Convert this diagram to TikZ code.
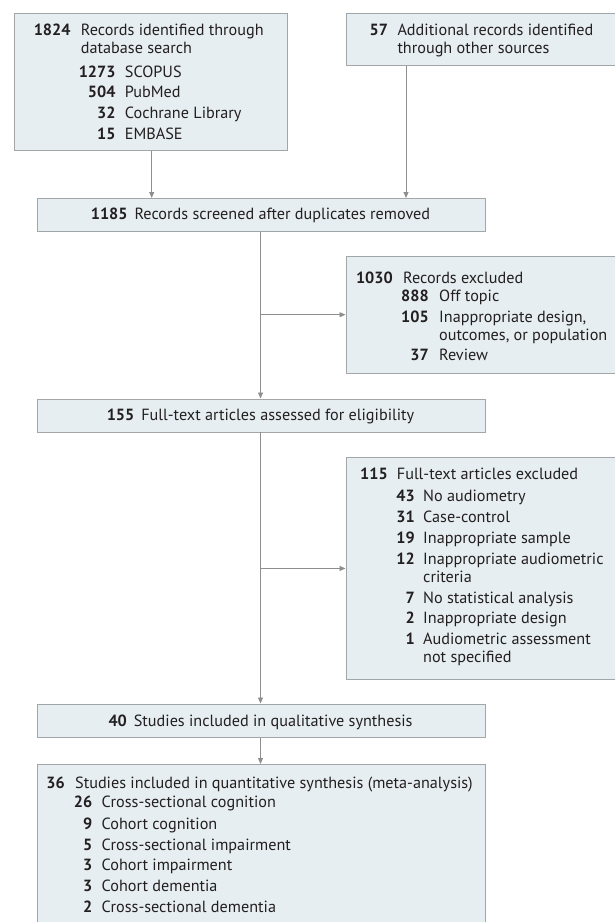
\documentclass[tikz,border=0pt]{standalone}
\usepackage{fontspec}
\setmainfont{PT Sans}
\usetikzlibrary{arrows.meta}
\definecolor{boxfill}{HTML}{E6EEF2}
\definecolor{boxline}{HTML}{A3A6A8}
\definecolor{arrline}{HTML}{8E8E8E}
\definecolor{txt}{HTML}{231F20}
\tikzset{
  box/.style={draw=boxline, fill=boxfill, line width=0.9pt, rectangle, inner sep=0pt, anchor=north west},
  arr/.style={draw=arrline, line width=0.9pt, -{Triangle[length=6pt,width=5pt]}},
  numst/.style={inner sep=0pt, anchor=base east, text=txt, font=\fontsize{16.2}{18}\selectfont\bfseries},
  txtst/.style={inner sep=0pt, anchor=base west, text=txt, font=\fontsize{16.2}{18}\selectfont},
  ctrst/.style={inner sep=0pt, anchor=base, text=txt, font=\fontsize{16.2}{18}\selectfont},
}
\newcommand{\entry}[6]{%
  \node[numst] (#1n) at (#2,#4) {#5};
  \node[txtst] (#1t) at (#3,#4) {#6};}
\newcommand{\contline}[4]{%
  \node[txtst] (#1) at (#2,#3) {#4};}
\begin{document}
\begin{tikzpicture}[x=1pt,y=-1pt]
\useasboundingbox (0,0) rectangle (615,922);
% boxes
\node[box, minimum width=273.3pt, minimum height=136.7pt] (b1) at (14,13.3) {};
\node[box, minimum width=268.8pt, minimum height=51.7pt] (b2) at (345.7,13.3) {};
\node[box, minimum width=448pt, minimum height=33pt] (b3) at (37,198) {};
\node[box, minimum width=269pt, minimum height=116.5pt] (ex1) at (345.5,256) {};
\node[box, minimum width=448pt, minimum height=33pt] (b4) at (37,398.5) {};
\node[box, minimum width=269pt, minimum height=222pt] (ex2) at (345.5,457) {};
\node[box, minimum width=448pt, minimum height=33.5pt] (b5) at (37,703.5) {};
\node[box, minimum width=448pt, minimum height=162pt] (b6) at (37,764) {};
% box 1
\entry{l1a}{70.7}{80.7}{35.3}{1824}{Records identified through}
\contline{l1b}{80.7}{53.5}{database search}
\entry{l1c}{115.7}{124.7}{77}{1273}{SCOPUS}
\entry{l1d}{115.7}{124.7}{97.5}{504}{PubMed}
\entry{l1e}{115.7}{124.7}{118.3}{32}{Cochrane Library}
\entry{l1f}{115.7}{124.7}{139}{15}{EMBASE}
% box 2
\entry{l2a}{388.3}{397.3}{35.3}{57}{Additional records identified}
\contline{l2b}{397.3}{53.5}{through other sources}
% box 3
\node[ctrst] (l3) at (260.5,219.3) {\textbf{1185}\hspace{7pt}Records screened after duplicates removed};
% excluded 1
\entry{e1a}{393}{403}{283}{1030}{Records excluded}
\entry{e1b}{429}{439}{301.7}{888}{Off topic}
\entry{e1c}{429}{439}{322.3}{105}{Inappropriate design,}
\contline{e1d}{439}{340.7}{outcomes, or population}
\entry{e1e}{429}{439}{360.7}{37}{Review}
% box 4
\node[ctrst] (l4) at (260.5,420.5) {\textbf{155}\hspace{7pt}Full-text articles assessed for eligibility};
% excluded 2
\entry{e2a}{388}{396.7}{479.5}{115}{Full-text articles excluded}
\entry{e2b}{415}{423}{501.5}{43}{No audiometry}
\entry{e2c}{415}{423}{522}{31}{Case-control}
\entry{e2d}{415}{423}{543}{19}{Inappropriate sample}
\entry{e2e}{415}{423}{564}{12}{Inappropriate audiometric}
\contline{e2f}{423}{582}{criteria}
\entry{e2g}{415}{423}{603}{7}{No statistical analysis}
\entry{e2h}{415}{423}{623}{2}{Inappropriate design}
\entry{e2i}{415}{423}{644}{1}{Audiometric assessment}
\contline{e2j}{423}{662}{not specified}
% box 5
\node[ctrst] (l5) at (260.5,726.7) {\textbf{40}\hspace{7pt}Studies included in qualitative synthesis};
% box 6
\entry{l6a}{65}{75}{788}{36}{Studies included in quantitative synthesis (meta-analysis)}
\entry{l6b}{92.5}{101.5}{807}{26}{Cross-sectional cognition}
\entry{l6c}{92.5}{101.5}{829}{9}{Cohort cognition}
\entry{l6d}{92.5}{101.5}{850.7}{5}{Cross-sectional impairment}
\entry{l6e}{92.5}{101.5}{870.7}{3}{Cohort impairment}
\entry{l6f}{92.5}{101.5}{891.7}{3}{Cohort dementia}
\entry{l6g}{92.5}{101.5}{912.7}{2}{Cross-sectional dementia}
% connectors
\coordinate (x1) at (151.7,0);
\coordinate (x2) at (406,0);
\coordinate (xm) at (260.5,0);
\draw[arr] (b1.south -| x1) -- (b3.north -| x1);
\draw[arr] (b2.south -| x2) -- (b3.north -| x2);
\draw[arr] (b3.south -| xm) -- (b4.north -| xm);
\coordinate (j1) at (xm |- ex1.west);
\draw[arr] (j1) -- (ex1.west);
\draw[arr] (b4.south -| xm) -- (b5.north -| xm);
\coordinate (j2) at (xm |- ex2.west);
\draw[arr] (j2) -- (ex2.west);
\draw[arr] (b5.south -| xm) -- (b6.north -| xm);
\end{tikzpicture}
\end{document}
